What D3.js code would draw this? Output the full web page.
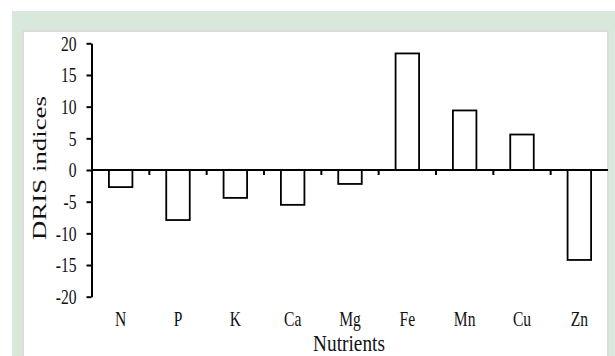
<!DOCTYPE html>
<html>
<head>
<meta charset="utf-8">
<script src="https://cdn.jsdelivr.net/npm/d3@7"></script>
<style>
  html, body { margin: 0; padding: 0; background: #fff; }
  svg { display: block; }
  text { font-family: "Liberation Serif", "Times New Roman", serif; fill: #111; }
</style>
</head>
<body>
<div id="chart"></div>
<script>
// Data
var nutrients  = ['N', 'P', 'K', 'Ca', 'Mg', 'Fe', 'Mn', 'Cu', 'Zn'];
var drisValues = [-2.7, -7.9, -4.4, -5.5, -2.2, 18.4, 9.4, 5.6, -14.2];
var yTicks     = [20, 15, 10, 5, 0, -5, -10, -15, -20];

var W = 615, H = 356;
var sx = 0.78; // the source text is narrow, squeeze it horizontally

var svg = d3.select('#chart').append('svg')
    .attr('width', W).attr('height', H);

// green frame + white panel
svg.append('rect').attr('x', 12).attr('y', 11).attr('width', W - 12).attr('height', H - 11)
    .attr('fill', '#d8e8da');
svg.append('rect').attr('x', 23).attr('y', 31).attr('width', 585).attr('height', H)
    .attr('fill', '#fff').attr('stroke', '#dcdcdc').attr('stroke-width', 2);

var x = d3.scaleBand().domain(nutrients).range([92, 608]).paddingInner(0).paddingOuter(0);
var y = d3.scaleLinear().domain([-20, 20]).range([296.7, 43.3]);

// bars
var barW = x.bandwidth() * 0.41;
svg.append('g').selectAll('rect')
    .data(nutrients)
    .enter().append('rect')
    .attr('x', function (d) { return x(d) + (x.bandwidth() - barW) / 2; })
    .attr('y', function (d, i) { return y(Math.max(0, drisValues[i])); })
    .attr('width', barW)
    .attr('height', function (d, i) { return Math.abs(y(drisValues[i]) - y(0)); })
    .attr('fill', '#fff')
    .attr('stroke', '#000')
    .attr('stroke-width', 1.8);

// y axis
var yAxis = svg.append('g')
    .attr('transform', 'translate(91.5,0)')
    .call(d3.axisLeft(y).tickValues(yTicks).tickSize(5).tickSizeOuter(0).tickPadding(10)
        .tickFormat(function (d) { return String(d); }));
yAxis.select('.domain').attr('stroke', '#000').attr('stroke-width', 2);
yAxis.selectAll('.tick line').attr('stroke', '#000').attr('stroke-width', 2);
yAxis.selectAll('.tick text')
    .style('font-size', '20px')
    .style('font-family', '"Liberation Serif", "Times New Roman", serif')
    .attr('fill', '#111')
    .attr('dy', '0.34em')
    .each(function () {
        var t = d3.select(this);
        var tx = +t.attr('x');
        t.attr('x', 0).attr('transform', 'translate(' + tx + ',0) scale(' + sx + ',1)');
    });

// x axis line at zero with ticks between categories
var x0 = y(0);
var xAxisG = svg.append('g');
xAxisG.append('line')
    .attr('x1', x.range()[0]).attr('x2', x.range()[1])
    .attr('y1', x0).attr('y2', x0)
    .attr('stroke', '#000').attr('stroke-width', 2);
xAxisG.selectAll('line.tk')
    .data(nutrients.slice(1))
    .enter().append('line')
    .attr('class', 'tk')
    .attr('x1', function (d) { return x(d); }).attr('x2', function (d) { return x(d); })
    .attr('y1', x0).attr('y2', x0 + 5)
    .attr('stroke', '#000').attr('stroke-width', 2);

// category labels at the bottom
svg.append('g').selectAll('text')
    .data(nutrients)
    .enter().append('text')
    .attr('text-anchor', 'middle')
    .attr('font-size', 20)
    .attr('transform', function (d) {
        return 'translate(' + (x(d) + x.bandwidth() / 2) + ',326) scale(' + sx + ',1)';
    })
    .text(function (d) { return d; });

// axis titles
svg.append('text')
    .attr('text-anchor', 'middle')
    .attr('font-size', 23)
    .attr('transform', 'translate(349,351) scale(0.84,1)')
    .text('Nutrients');

svg.append('text')
    .attr('text-anchor', 'middle')
    .attr('font-size', 22)
    .attr('transform', 'translate(46,168) rotate(-90) scale(1.22,0.82)')
    .text('DRIS indices');
</script>
</body>
</html>
